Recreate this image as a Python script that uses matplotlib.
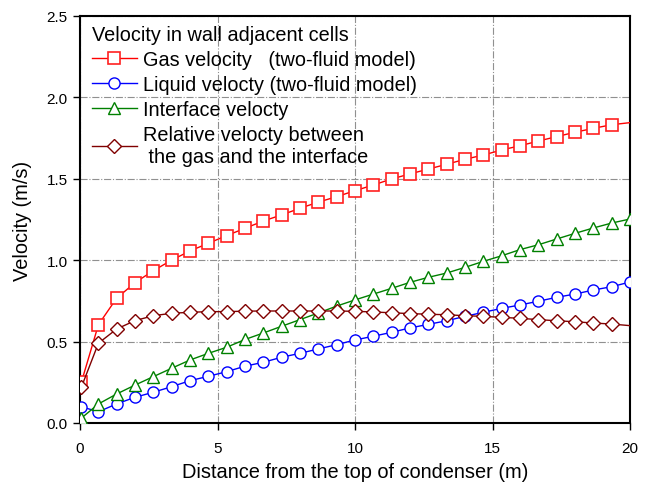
import matplotlib
matplotlib.use("Agg")
import matplotlib.pyplot as plt

plt.rcParams['font.family'] = ['Liberation Sans', 'DejaVu Sans']

# Distance from top of condenser (m)
distance = [0.05, 0.67, 1.33, 2.0, 2.67, 3.33, 4.0, 4.67, 5.33, 6.0,
            6.67, 7.33, 8.0, 8.67, 9.33, 10.0, 10.67, 11.33, 12.0, 12.67,
            13.33, 14.0, 14.67, 15.33, 16.0, 16.67, 17.33, 18.0, 18.67, 19.33, 20.0]

gas_velocity = [0.25, 0.604, 0.766, 0.862, 0.936, 1.0, 1.057, 1.104, 1.151, 1.196,
                1.241, 1.278, 1.319, 1.357, 1.390, 1.427, 1.462, 1.499, 1.530, 1.560,
                1.589, 1.620, 1.646, 1.677, 1.703, 1.732, 1.759, 1.786, 1.810, 1.832, 1.845]

liquid_velocity = [0.100, 0.069, 0.117, 0.158, 0.189, 0.223, 0.260, 0.287, 0.315, 0.349,
                   0.373, 0.404, 0.428, 0.455, 0.481, 0.510, 0.533, 0.557, 0.584, 0.606,
                   0.628, 0.655, 0.680, 0.704, 0.725, 0.748, 0.772, 0.792, 0.817, 0.837, 0.866]

interface_velocity = [0.03, 0.117, 0.178, 0.233, 0.285, 0.336, 0.387, 0.428, 0.465, 0.513,
                      0.553, 0.594, 0.635, 0.676, 0.718, 0.756, 0.792, 0.827, 0.864, 0.895,
                      0.921, 0.956, 0.993, 1.027, 1.065, 1.095, 1.130, 1.165, 1.198, 1.228, 1.253]

relative_velocity = [0.22, 0.49, 0.577, 0.629, 0.659, 0.674, 0.680, 0.684, 0.684, 0.687,
                     0.688, 0.688, 0.688, 0.688, 0.688, 0.686, 0.682, 0.677, 0.672, 0.668,
                     0.665, 0.659, 0.655, 0.649, 0.643, 0.635, 0.628, 0.622, 0.614, 0.608, 0.598]

labels = ["Gas velocity   (two-fluid model)",
          "Liquid velocty (two-fluid model)",
          "Interface velocty",
          "Relative velocty between\n the gas and the interface"]

x_ticks = [0, 5, 10, 15, 20]
y_ticks = [0.0, 0.5, 1.0, 1.5, 2.0, 2.5]

fig = plt.figure(figsize=(6.51, 4.85), dpi=100)
ax = fig.add_axes([80/651, 1-424/485, 550/651, 407/485])

n = len(distance)
ax.plot(distance, gas_velocity, color='#FF0000', lw=1.0, marker='s', ms=8,
        mfc='white', mec='#FF2020', mew=1.2, markevery=list(range(n-1)), label=labels[0], zorder=3)
ax.plot(distance, liquid_velocity, color='#0000FF', lw=1.0, marker='o', ms=8,
        mfc='white', mec='#0000FF', mew=1.0, label=labels[1], zorder=3)
ax.plot(distance, interface_velocity, color='#008000', lw=1.0, marker='^', ms=9,
        mfc='white', mec='#008000', mew=1.0, label=labels[2], zorder=3)
ax.plot(distance, relative_velocity, color='#800000', lw=1.0, marker='D', ms=7,
        mfc='white', mec='#800000', mew=1.0, markevery=list(range(n-1)), label=labels[3], zorder=3)

ax.set_xlim(0, 20)
ax.set_ylim(0, 2.5)
ax.set_xticks(x_ticks)
ax.set_xticklabels([str(v) for v in x_ticks])
ax.set_yticks(y_ticks)
ax.set_yticklabels([f"{v:.1f}" for v in y_ticks])
ax.tick_params(axis='both', direction='out', length=5, width=1, labelsize=11)
ax.tick_params(axis='x', pad=8)
ax.tick_params(axis='y', pad=4)

ax.grid(True, color='#909090', linestyle='-.', linewidth=0.8)
ax.set_axisbelow(True)
for s in ax.spines.values():
    s.set_linewidth(1.5)
    s.set_color('black')

ax.set_xlabel("Distance from the top of condenser (m)", fontsize=14.4, labelpad=5)
ax.set_ylabel("Velocity (m/s)", fontsize=14.4, labelpad=10)

leg = ax.legend(loc='upper left', bbox_to_anchor=(0.005, 1.0),
                title="Velocity in wall adjacent cells", frameon=False,
                fontsize=14.3, title_fontsize=14.3, handlelength=2.26, handletextpad=0.3,
                labelspacing=0.3, borderaxespad=0.15, borderpad=0.3, alignment='left')

fig.savefig("out.png", dpi=100)
